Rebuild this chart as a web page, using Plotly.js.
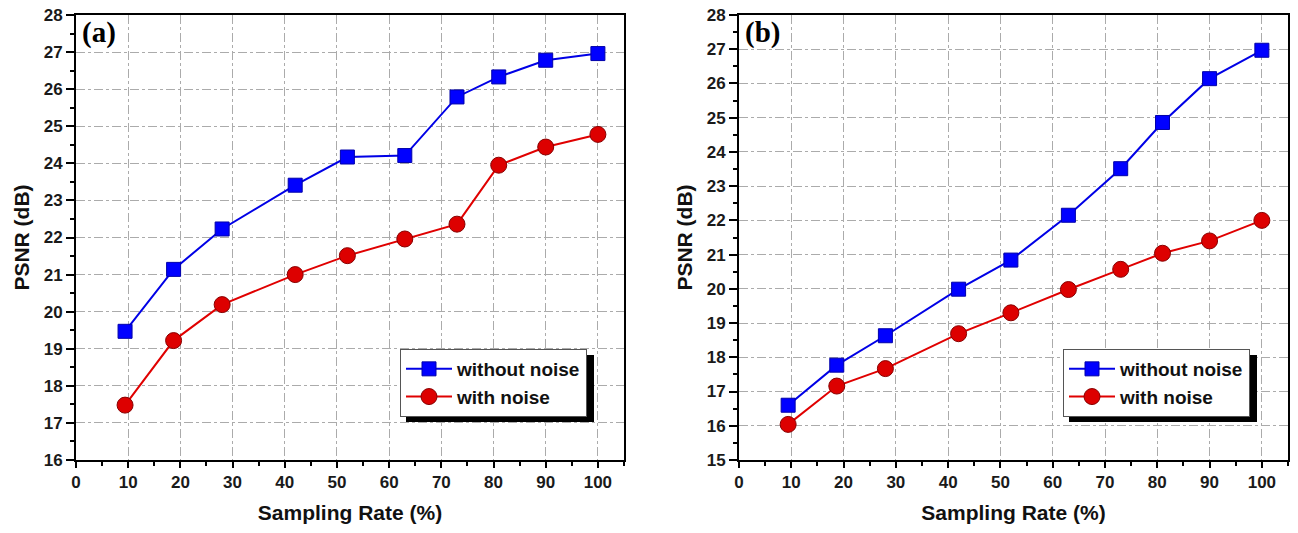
<!DOCTYPE html>
<html>
<head>
<meta charset="utf-8">
<script src="https://cdn.plot.ly/plotly-3.0.1.min.js"></script>
<style>html,body{margin:0;padding:0;background:#fff;}#chart{width:1298px;height:533px;}</style>
</head>
<body>
<div id="chart"></div>
<script>
// Sampling rates (%)
const samplingRate = [9.4, 18.7, 28, 42, 52, 63, 73, 81, 90, 100];
// Panel (a)
const aWithoutNoise = [19.47, 21.14, 22.23, 23.41, 24.17, 24.21, 25.79, 26.33, 26.78, 26.96];
const aWithNoise    = [17.48, 19.22, 20.19, 21.00, 21.51, 21.96, 22.36, 23.95, 24.44, 24.78];
// Panel (b)
const bWithoutNoise = [16.60, 17.77, 18.63, 19.99, 20.84, 22.15, 23.51, 24.86, 26.14, 26.97];
const bWithNoise    = [16.04, 17.16, 17.67, 18.69, 19.30, 19.98, 20.57, 21.04, 21.40, 22.00];
const seriesNames = ['without noise', 'with noise'];
const panelLabels = ['(a)', '(b)'];

const W = 1298, H = 533;
const blueLine = {color: '#0000e6', width: 2};
const redLine = {color: '#e00000', width: 2};
const blueMarker = {symbol: 'square', size: 14, color: '#0000ff', line: {color: '#0000aa', width: 1}};
const redMarker = {symbol: 'circle', size: 16, color: '#dd0000', line: {color: '#880000', width: 1}};

const traces = [
  {x: samplingRate, y: aWithoutNoise, name: seriesNames[0], mode: 'lines+markers', line: blueLine, marker: blueMarker, xaxis: 'x', yaxis: 'y', legend: 'legend'},
  {x: samplingRate, y: aWithNoise, name: seriesNames[1], mode: 'lines+markers', line: redLine, marker: redMarker, xaxis: 'x', yaxis: 'y', legend: 'legend'},
  {x: samplingRate, y: bWithoutNoise, name: seriesNames[0], mode: 'lines+markers', line: blueLine, marker: blueMarker, xaxis: 'x2', yaxis: 'y2', legend: 'legend2'},
  {x: samplingRate, y: bWithNoise, name: seriesNames[1], mode: 'lines+markers', line: redLine, marker: redMarker, xaxis: 'x2', yaxis: 'y2', legend: 'legend2'}
];

const tickFont = {family: 'Liberation Sans, Arial, sans-serif', size: 17, color: '#1a1a1a', weight: 'bold'};
const titleFont = {family: 'Liberation Sans, Arial, sans-serif', size: 21, color: '#111', weight: 'bold'};

function xAxis(domain, anchor) {
  return {
    domain: domain, anchor: anchor, range: [0, 105], dtick: 10, tick0: 0,
    showline: true, linecolor: '#000', linewidth: 2, mirror: true,
    ticks: 'outside', ticklen: 6, tickwidth: 2, tickcolor: '#000',
    minor: {dtick: 5, ticks: 'outside', ticklen: 4, tickwidth: 2, tickcolor: '#000', showgrid: false},
    showgrid: true, gridcolor: '#ababab', gridwidth: 1, griddash: 'dashdot',
    zeroline: false, tickfont: tickFont, automargin: false,
    title: {text: 'Sampling Rate (%)', font: titleFont, standoff: 14}
  };
}
function yAxis(range, anchor) {
  return {
    domain: [73 / H, 518 / H], anchor: anchor, range: range, dtick: 1,
    showline: true, linecolor: '#000', linewidth: 2, mirror: true,
    ticks: 'outside', ticklen: 8, tickwidth: 2, tickcolor: '#000',
    minor: {dtick: 0.5, ticks: 'outside', ticklen: 4, tickwidth: 2, tickcolor: '#000', showgrid: false},
    showgrid: true, gridcolor: '#ababab', gridwidth: 1, griddash: 'dashdot',
    zeroline: false, tickfont: tickFont, automargin: false,
    title: {text: 'PSNR (dB)', font: titleFont, standoff: 8}
  };
}

const legendCommon = {
  bgcolor: '#fff', bordercolor: '#555', borderwidth: 1,
  font: {family: 'Liberation Sans, Arial, sans-serif', size: 19, color: '#111', weight: 'bold'},
  xanchor: 'left', yanchor: 'top', tracegroupgap: 0, itemwidth: 46
};

const legTop = 349, legBottom = 415;
const layout = {
  width: W, height: H,
  margin: {l: 0, r: 0, t: 0, b: 0},
  paper_bgcolor: '#fff', plot_bgcolor: '#fff',
  showlegend: true,
  xaxis: xAxis([76 / W, 624 / W], 'y'),
  yaxis: yAxis([16, 28], 'x'),
  xaxis2: xAxis([739 / W, 1288 / W], 'y2'),
  yaxis2: yAxis([15, 28], 'x2'),
  legend: Object.assign({}, legendCommon, {x: 400 / W, y: (H - legTop) / H}),
  legend2: Object.assign({}, legendCommon, {x: 1063 / W, y: (H - legTop) / H}),
  shapes: [
    {type: 'rect', xref: 'paper', yref: 'paper', x0: 406 / W, x1: 594 / W, y0: (H - legBottom - 7) / H, y1: (H - legTop - 6) / H, fillcolor: '#000', line: {width: 0}, layer: 'above'},
    {type: 'rect', xref: 'paper', yref: 'paper', x0: 1069 / W, x1: 1257 / W, y0: (H - legBottom - 7) / H, y1: (H - legTop - 6) / H, fillcolor: '#000', line: {width: 0}, layer: 'above'}
  ],
  annotations: [
    {text: panelLabels[0], xref: 'paper', yref: 'paper', x: 80 / W, y: (H - 33) / H, xanchor: 'left', yanchor: 'middle', showarrow: false, font: {family: 'Liberation Serif, Times New Roman, serif', size: 29, color: '#000', weight: 'bold'}},
    {text: panelLabels[1], xref: 'paper', yref: 'paper', x: 743 / W, y: (H - 33) / H, xanchor: 'left', yanchor: 'middle', showarrow: false, font: {family: 'Liberation Serif, Times New Roman, serif', size: 29, color: '#000', weight: 'bold'}}
  ]
};

Plotly.newPlot('chart', traces, layout, {displayModeBar: false, staticPlot: true});
</script>
</body>
</html>
